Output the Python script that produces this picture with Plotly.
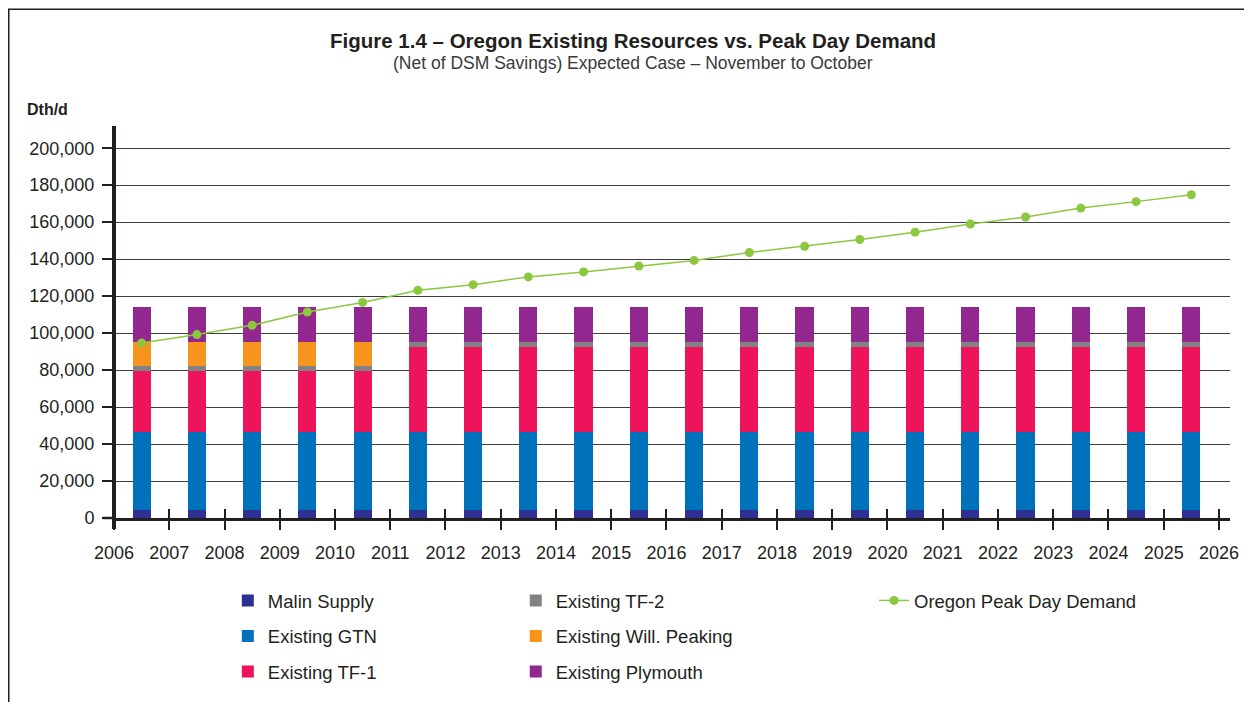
"""Figure 1.4 - Oregon existing resources vs. peak day demand."""

import plotly.graph_objects as go

# Colour palette
MALIN_BLUE = "#2e3192"
GTN_BLUE = "#0072bc"
TF1_PINK = "#ed145b"
TF2_GRAY = "#808285"
WILL_ORANGE = "#f7941d"
PLYMOUTH_PURPLE = "#92278f"
DEMAND_GREEN = "#8dc63f"
INK = "#231f20"
GRID = "#3d3d3d"
FONT = "Liberation Sans, Arial, sans-serif"

# Data (Dth/d), one value per gas year starting Nov of the listed year
YEARS = [2006, 2007, 2008, 2009, 2010, 2011, 2012, 2013, 2014, 2015,
         2016, 2017, 2018, 2019, 2020, 2021, 2022, 2023, 2024, 2025]
MALIN_SUPPLY = [4500] * 20
EXISTING_GTN = [41900] * 20
EXISTING_TF1 = [33000, 33000, 33000, 33000, 33000] + [45900] * 15
EXISTING_TF2 = [2700] * 20
EXISTING_WILL_PEAKING = [12900, 12900, 12900, 12900, 12900] + [0] * 15
EXISTING_PLYMOUTH = [18900] * 20
PEAK_DAY_DEMAND = [94700, 99200, 104200, 111400, 116600, 123200, 126200,
                   130400, 133100, 136300, 139300, 143600, 146900, 150600,
                   154600, 159000, 162800, 167600, 171100, 174800]
Y_TICKS = list(range(0, 200001, 20000))
X_TICKS = list(range(2006, 2027))

# bars and points sit in the middle of each year interval
x_mid = [y + 0.5 for y in YEARS]

fig = go.Figure()

bar_series = [
    ("Malin Supply", MALIN_SUPPLY, MALIN_BLUE, "legend"),
    ("Existing GTN", EXISTING_GTN, GTN_BLUE, "legend"),
    ("Existing TF-1", EXISTING_TF1, TF1_PINK, "legend"),
    ("Existing TF-2", EXISTING_TF2, TF2_GRAY, "legend2"),
    ("Existing Will. Peaking", EXISTING_WILL_PEAKING, WILL_ORANGE, "legend2"),
    ("Existing Plymouth", EXISTING_PLYMOUTH, PLYMOUTH_PURPLE, "legend2"),
]
for name, values, color, legend in bar_series:
    fig.add_trace(
        go.Bar(
            x=x_mid,
            y=values,
            name=name,
            width=0.33,
            marker=dict(color=color, line=dict(width=0)),
            legend=legend,
            legendgroup=name,
            hovertemplate=f"{name}: %{{y:,}}<extra></extra>",
        )
    )

fig.add_trace(
    go.Scatter(
        x=x_mid,
        y=PEAK_DAY_DEMAND,
        name="Oregon Peak Day Demand",
        mode="lines+markers",
        line=dict(color=DEMAND_GREEN, width=1.5),
        marker=dict(color=DEMAND_GREEN, size=9),
        legend="legend3",
        legendgroup="demand",
        xaxis="x2",
        hovertemplate="Peak day demand: %{y:,}<extra></extra>",
    )
)

legend_style = dict(
    orientation="v",
    yanchor="top",
    y=-0.160,
    xanchor="left",
    font=dict(family=FONT, size=18.5, color=INK),
    traceorder="grouped",
    tracegroupgap=8.5,
    bgcolor="rgba(0,0,0,0)",
)

# the page body adds an 8px offset, so the figure is drawn 8px smaller
fig.update_layout(
    barmode="stack",
    width=1244,
    height=694,
    margin=dict(l=106, r=22, t=118, b=183),
    plot_bgcolor="white",
    paper_bgcolor="white",
    font=dict(family=FONT, color=INK),
    xaxis=dict(
        range=[2006, 2026.2],
        tickvals=X_TICKS,
        ticks="outside",
        ticklen=9,
        tickwidth=1.5,
        tickcolor=INK,
        tickfont=dict(size=18, color=INK),
        ticklabelstandoff=8,
        showgrid=False,
        zeroline=False,
        showline=True,
        linewidth=2.5,
        linecolor=INK,
        fixedrange=True,
    ),
    xaxis2=dict(
        overlaying="x",
        matches="x",
        anchor="y",
        side="bottom",
        tickvals=X_TICKS,
        ticks="inside",
        ticklen=9,
        tickwidth=1.5,
        tickcolor=INK,
        showticklabels=False,
        showgrid=False,
        zeroline=False,
        fixedrange=True,
    ),
    yaxis=dict(
        range=[0, 212000],
        tickvals=Y_TICKS,
        tickformat=",",
        ticks="outside",
        ticklen=11,
        tickwidth=1.5,
        tickcolor=INK,
        tickfont=dict(size=18, color=INK),
        ticklabelstandoff=4,
        showgrid=True,
        gridcolor=GRID,
        gridwidth=1.2,
        zeroline=False,
        showline=False,
        fixedrange=True,
    ),
    legend=dict(legend_style, x=0.102),
    legend2=dict(legend_style, x=0.360),
    legend3=dict(legend_style, x=0.681),
    showlegend=True,
    shapes=[
        # thick y axis line, running slightly below the x axis
        dict(type="line", xref="paper", yref="paper", x0=0, x1=0,
             y0=-0.028, y1=1, line=dict(color=INK, width=4)),
        # x axis line stub to the left of the y axis
        dict(type="line", xref="paper", yref="paper", x0=-0.01, x1=0,
             y0=0, y1=0, line=dict(color=INK, width=2.5)),
        # frame around the whole figure
        dict(type="rect", xref="paper", yref="paper",
             x0=-0.0943, x1=1.0170, y0=-0.6, y1=1.298,
             line=dict(color=INK, width=1.5)),
    ],
    annotations=[
        dict(
            x=0.465, y=1.219, xref="paper", yref="paper",
            text="<b>Figure 1.4 – Oregon Existing Resources vs. Peak Day Demand</b>",
            showarrow=False, xanchor="center", yanchor="middle",
            font=dict(family=FONT, size=20.5, color=INK),
        ),
        dict(
            x=0.465, y=1.160, xref="paper", yref="paper",
            text="(Net of DSM Savings) Expected Case – November to October",
            showarrow=False, xanchor="center", yanchor="middle",
            font=dict(family=FONT, size=17.5, color="#3a3a3a"),
        ),
        dict(
            x=-0.0595, y=1.041, xref="paper", yref="paper",
            text="<b>Dth/d</b>",
            showarrow=False, xanchor="center", yanchor="middle",
            font=dict(family=FONT, size=16, color=INK),
        ),
    ],
)

fig.write_html("out.html")
